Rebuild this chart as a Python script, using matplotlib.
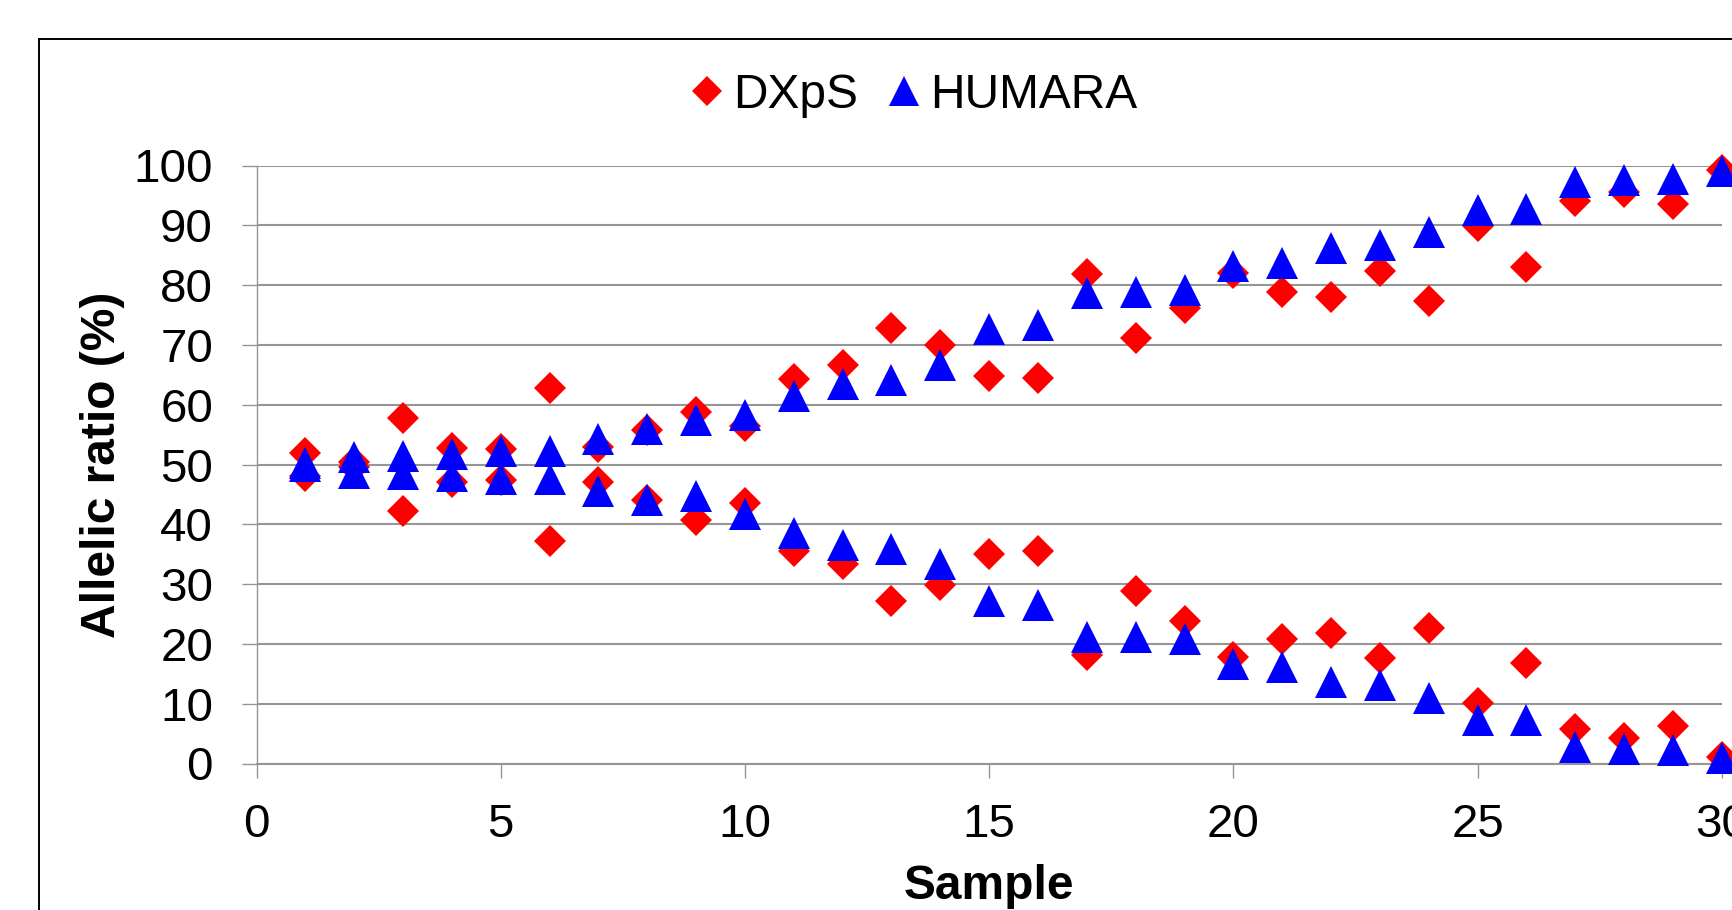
import matplotlib
matplotlib.use("Agg")
import matplotlib.pyplot as plt
from matplotlib.patches import Rectangle

plt.rcParams['font.family'] = ['Liberation Sans', 'DejaVu Sans']

# ---- data ----
samples = list(range(1, 31))

dxps_hi = [52.0, 50.5, 57.8, 52.8, 52.6, 62.8, 53.0, 55.8, 58.8, 56.5,
           64.3, 66.7, 72.8, 70.0, 64.8, 64.5, 81.9, 71.2, 76.2, 82.0,
           78.9, 78.0, 82.3, 77.4, 89.8, 83.1, 94.0, 95.6, 93.6, 99.3]
dxps_lo = [48.0, 49.5, 42.2, 47.1, 47.4, 37.2, 47.0, 44.0, 40.8, 43.5,
           35.6, 33.3, 27.1, 29.9, 35.1, 35.5, 18.2, 28.8, 23.8, 17.8,
           20.9, 21.9, 17.6, 22.6, 10.2, 16.8, 5.8, 4.3, 6.2, 1.1]

humara_hi = [50.2, 51.2, 51.5, 51.8, 52.3, 52.3, 54.3, 55.9, 57.4, 58.2,
             61.4, 63.5, 64.2, 66.6, 72.7, 73.4, 78.7, 78.9, 79.2, 83.2,
             83.7, 86.2, 86.7, 88.9, 92.6, 92.7, 97.2, 97.5, 97.7, 99.0]
humara_lo = [49.8, 48.6, 48.4, 48.1, 47.6, 47.6, 45.6, 44.0, 44.7, 41.7,
             38.5, 36.5, 35.8, 33.3, 27.2, 26.5, 21.2, 21.1, 20.8, 16.7,
             16.2, 13.7, 13.2, 11.0, 7.3, 7.2, 2.8, 2.4, 2.2, 1.0]

x_ticks = [0, 5, 10, 15, 20, 25, 30]
y_ticks = list(range(0, 101, 10))

W, H = 1733, 910
fig = plt.figure(figsize=(W / 100, H / 100), dpi=100)

# plot area (pixel positions measured on the reference)
left, right, top, bottom = 256.5, 1721.8, 165.5, 763.5
ax = fig.add_axes([left / W, (H - bottom) / H, (right - left) / W, (bottom - top) / H])

grid_col = '#959595'

red_kw = dict(linestyle='none', marker='D', color='#ff0000', markersize=15.8,
              markeredgewidth=0, clip_on=False, zorder=3)
blue_kw = dict(linestyle='none', marker='^', color='#0000ff', markersize=22.7,
               markeredgewidth=0, clip_on=False, zorder=4)

ax.plot(samples, dxps_hi, label='DXpS', **red_kw)
ax.plot(samples, dxps_lo, **red_kw)
ax.plot(samples, humara_hi, label='HUMARA', **blue_kw)
ax.plot(samples, humara_lo, **blue_kw)

ax.set_xlim(0, 30)
ax.set_ylim(0, 100)
ax.set_xticks(x_ticks)
ax.set_yticks(y_ticks)

ax.yaxis.grid(True, color=grid_col, linewidth=1.5)
ax.set_axisbelow(True)

for s in ['top', 'right']:
    ax.spines[s].set_visible(False)
ax.spines['left'].set_color(grid_col)
ax.spines['left'].set_linewidth(1.0)
ax.spines['bottom'].set_color(grid_col)
ax.spines['bottom'].set_linewidth(1.5)

ax.tick_params(axis='y', direction='out', length=10.8, width=1.0, color=grid_col,
               pad=20.5, labelsize=34.2)
ax.tick_params(axis='x', direction='out', length=10, width=1.0, color=grid_col,
               pad=18.5, labelsize=34.2)

ax.set_xlabel('Sample', fontsize=34.5, fontweight='bold', labelpad=12)
ax.set_ylabel('Allelic ratio (%)', fontsize=34.5, fontweight='bold', labelpad=6)

fig.legend(loc='center', bbox_to_anchor=(912 / W, 1 - 95 / H), ncol=2,
           frameon=False, fontsize=34.5, handlelength=0.85, handletextpad=0.12,
           columnspacing=0.55, borderaxespad=0, markerscale=0.95)

# outer chart border, runs off the right and bottom edge
fig.add_artist(Rectangle((39 / W, -0.5), 2.0, 0.5 + 1 - 39 / H, transform=fig.transFigure,
                         fill=False, edgecolor='black', linewidth=1.4))

fig.savefig('out.png', dpi=100)
